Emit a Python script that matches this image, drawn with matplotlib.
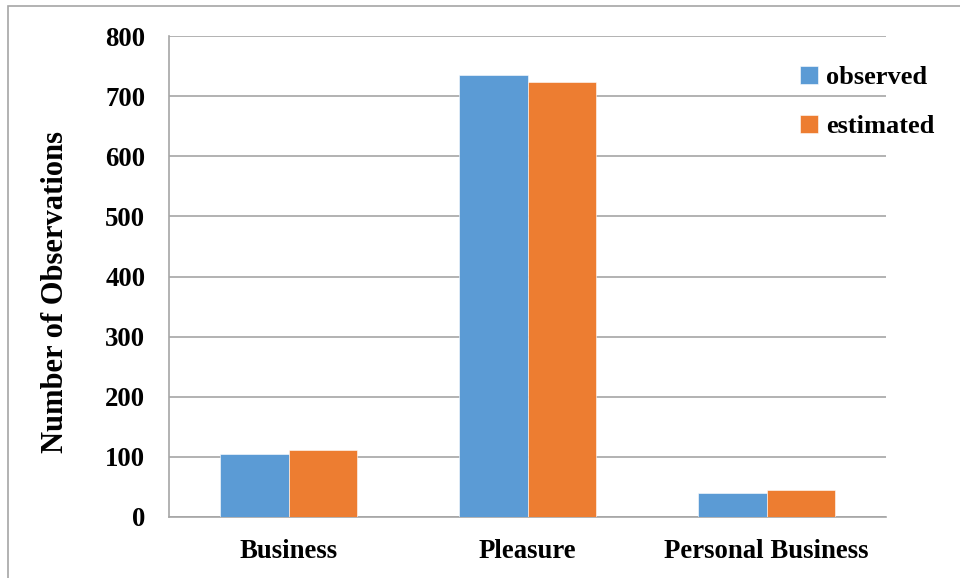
import matplotlib
matplotlib.use("Agg")
import matplotlib.pyplot as plt
import numpy as np
from matplotlib.patches import Rectangle

categories = ["Business", "Pleasure", "Personal Business"]
observed = [105, 735, 40]
estimated = [112, 723, 45]
series_names = ["observed", "estimated"]
y_ticks = [0, 100, 200, 300, 400, 500, 600, 700, 800]

plt.rcParams['font.family'] = ['Liberation Serif', 'DejaVu Serif']
plt.rcParams['font.weight'] = 'bold'

fig = plt.figure(figsize=(9.6, 5.78), dpi=100)
ax = fig.add_axes([169/960, 1-517/578, (886-169)/960, (517-36)/578])

x = np.arange(len(categories))
w = 0.287
blue = "#5B9BD5"
orange = "#ED7D31"
ax.bar(x - w/2, observed, w, color=blue, edgecolor="white", linewidth=0.4, label=series_names[0], zorder=3)
ax.bar(x + w/2, estimated, w, color=orange, edgecolor="white", linewidth=0.4, label=series_names[1], zorder=3)

ax.set_xlim(-0.5, 2.5)
ax.set_ylim(0, 800)
ax.set_yticks(y_ticks)
ax.set_yticklabels([str(v) for v in y_ticks], fontsize=19.3, fontweight='bold')
ax.set_xticks(x)
ax.set_xticklabels(categories, fontsize=19.3, fontweight='bold')
ax.tick_params(axis='both', length=0)
ax.tick_params(axis='y', pad=17)
ax.tick_params(axis='x', pad=15.5)
ax.grid(axis='y', color='#A6A6A6', linewidth=1.2, zorder=0)
ax.set_axisbelow(True)
for s in ['right', 'top']:
    ax.spines[s].set_visible(False)
ax.spines['left'].set_color('#A6A6A6')
ax.spines['left'].set_linewidth(1.2)
ax.spines['bottom'].set_color('#A6A6A6')
ax.spines['bottom'].set_linewidth(1.2)

ax.set_ylabel("Number of Observations", fontsize=22, fontweight='bold')
ax.yaxis.set_label_coords((70-169)/(886-169), (517-292)/(517-36))

leg = ax.legend(loc='upper left', bbox_to_anchor=(800/960, 1-66/578), bbox_transform=fig.transFigure,
                frameon=False, prop={'weight': 'bold', 'size': 19},
                handlelength=0.7, handleheight=0.7, handletextpad=0.3, labelspacing=0.95,
                borderaxespad=0, borderpad=0)

fig.patches.append(Rectangle((8/960, -0.1), 1.2, (1-6/578)+0.1, transform=fig.transFigure,
                             fill=False, edgecolor='#A6A6A6', linewidth=1.2))

fig.savefig("out.png", dpi=100)
